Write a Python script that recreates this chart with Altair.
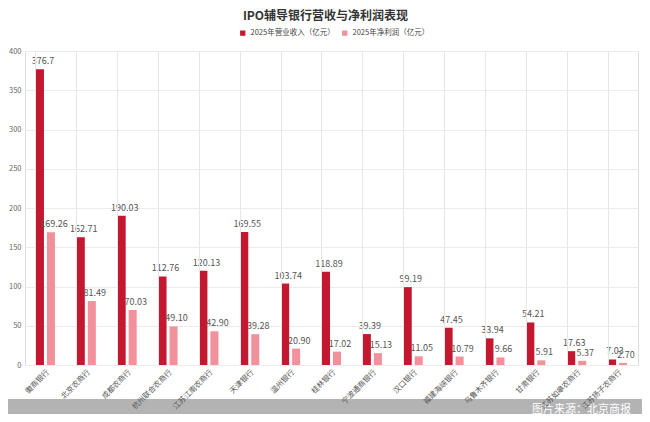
import altair as alt
import pandas as pd

banks = ["徽商银行", "北京农商行", "成都农商行", "杭州联合农商行", "江苏江南农商行",
         "天津银行", "温州银行", "桂林银行", "宁波通商银行", "汉口银行",
         "福建海峡银行", "乌鲁木齐银行", "甘肃银行", "江苏如皋农商行", "江苏扬子农商行"]
revenue = [376.7, 162.71, 190.03, 112.76, 120.13, 169.55, 103.74, 118.89, 39.39, 99.19,
           47.45, 33.94, 54.21, 17.63, 7.03]
revenue_labels = ["376.7", "162.71", "190.03", "112.76", "120.13", "169.55", "103.74", "118.89",
                  "39.39", "99.19", "47.45", "33.94", "54.21", "17.63", "7.03"]
profit = [169.26, 81.49, 70.03, 49.10, 42.90, 39.28, 20.90, 17.02, 15.13, 11.05,
          10.79, 9.66, 5.91, 5.37, 2.70]
profit_labels = ["169.26", "81.49", "70.03", "49.10", "42.90", "39.28", "20.90", "17.02",
                 "15.13", "11.05", "10.79", "9.66", "5.91", "5.37", "2.70"]
series = ["2025年营业收入（亿元）", "2025年净利润（亿元）"]
colors = ["#C3182F", "#F0919B"]
y_ticks = [0, 50, 100, 150, 200, 250, 300, 350, 400]
source_text = ["图片来源：北京商报"]

rows = []
for b, r, rl, p, pl in zip(banks, revenue, revenue_labels, profit, profit_labels):
    rows.append({"bank": b, "series": series[0], "value": r, "label": rl})
    rows.append({"bank": b, "series": series[1], "value": p, "label": pl})
df = pd.DataFrame(rows)

FONT = "Noto Sans CJK SC"
W, H = 613, 314

x_enc = alt.X("bank:N", sort=banks,
              scale=alt.Scale(paddingInner=0.534, paddingOuter=0.267),
              axis=alt.Axis(title=None, labelAngle=-45, labelFontSize=7.5, labelColor="#555555",
                            labelFont=FONT, labelPadding=3, ticks=False, domain=False,
                            grid=True, gridColor="#E6E6E6", bandPosition=0, zindex=1,
                            labelOverlap=False))
xo = alt.XOffset("series:N", sort=series, scale=alt.Scale(paddingInner=0.27))
y_enc = alt.Y("value:Q", scale=alt.Scale(domain=[0, 400], nice=False),
              axis=alt.Axis(title=None, values=y_ticks, labelFontSize=7.5, labelColor="#666666",
                            labelFont=FONT, ticks=False, domain=False, labelPadding=4,
                            gridColor="#EBEBEB", labelOverlap=False))
color = alt.Color("series:N", sort=series, scale=alt.Scale(domain=series, range=colors),
                  legend=alt.Legend(title=None, orient="none", direction="horizontal",
                                    legendX=214, legendY=-22, symbolType="square",
                                    symbolSize=28, labelFontSize=7.5, labelFont=FONT,
                                    labelColor="#444444", columnPadding=6, symbolStrokeWidth=0))

base = alt.Chart(df)

band = alt.Chart(pd.DataFrame({"t": source_text})).mark_rect(color="#B3B3B3").encode(
    x=alt.value(-25), x2=alt.value(W + 10), y=alt.value(348), y2=alt.value(370))

src = alt.Chart(pd.DataFrame({"t": source_text})).mark_text(
    align="right", baseline="middle", fontSize=11, font=FONT, color="white").encode(
    x=alt.value(W - 7), y=alt.value(359), text="t:N")

bars = base.mark_bar().encode(x=x_enc, xOffset=xo, y=y_enc, color=color)

labels = base.mark_text(baseline="bottom", dy=-3, dx=3, fontSize=9, font=FONT,
                        color="#555555").encode(
    x=x_enc, xOffset=xo, y=y_enc, text="label:N")

chart = alt.layer(band, bars, labels, src).properties(
    width=W, height=H,
    title=alt.TitleParams("IPO辅导银行营收与净利润表现", fontSize=12, font=FONT,
                          fontWeight="bold", color="#333333", anchor="middle",
                          offset=6, dx=-6),
    autosize=alt.AutoSizeParams(type="none"),
    padding={"left": 17, "top": 43, "right": 4, "bottom": 49},
).configure_view(stroke="#E6E6E6").configure(background="white")

chart.save("out.html", embed_options={"renderer": "svg", "actions": False})
